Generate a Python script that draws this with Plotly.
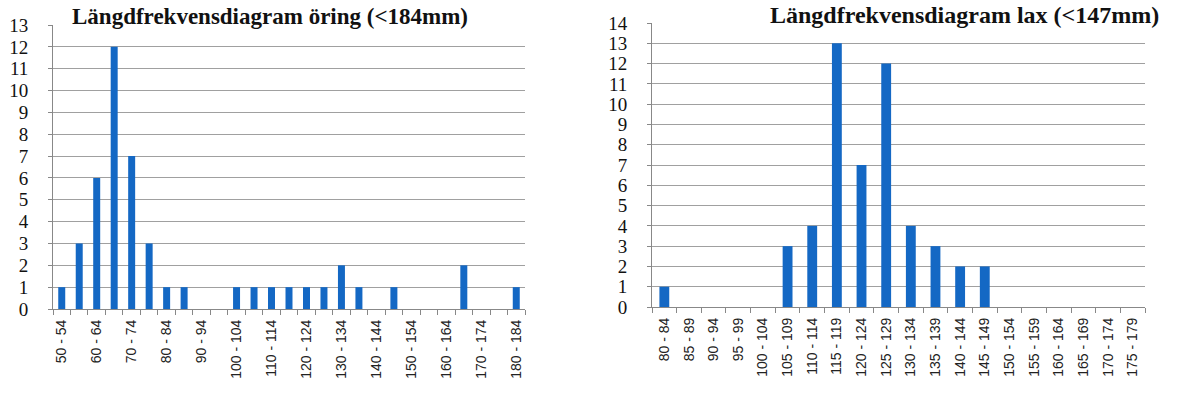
import plotly.graph_objects as go

# Data
oring_categories = [f"{s} - {s+4}" for s in range(50, 185, 5)]
oring_counts = [1, 3, 6, 12, 7, 3, 1, 1, 0, 0, 1, 1, 1, 1, 1, 1, 2, 1, 0, 1, 0, 0, 0, 2, 0, 0, 1]
oring_ticktext = [c if i % 2 == 0 else "" for i, c in enumerate(oring_categories)]

lax_categories = [f"{s} - {s+4}" for s in range(80, 180, 5)]
lax_counts = [1, 0, 0, 0, 0, 3, 4, 13, 7, 12, 4, 3, 2, 2, 0, 0, 0, 0, 0, 0]

title_left = "Längdfrekvensdiagram öring (<184mm)"
title_right = "Längdfrekvensdiagram lax (<147mm)"

W, H = 1177, 403
bar_color = "#1468C4"
grid_color = "#A0A0A0"
serif = "Liberation Serif, Times New Roman, serif"
sans = "Liberation Sans, Arial, sans-serif"

fig = go.Figure()
fig.add_trace(go.Bar(x=oring_categories, y=oring_counts, marker_color=bar_color,
                     marker_line_width=0, xaxis="x", yaxis="y", showlegend=False))
fig.add_trace(go.Bar(x=lax_categories, y=lax_counts, marker_color=bar_color,
                     marker_line_width=0, xaxis="x2", yaxis="y2", showlegend=False))

common_x = dict(type="category", tickson="boundaries", ticks="outside", ticklen=5,
                tickcolor="#888888", showline=True, linecolor="#888888", linewidth=1,
                showgrid=False, tickangle=-90, ticklabelstandoff=4, automargin=False,
                tickfont=dict(family=sans, size=14, color="#222222"))
common_y = dict(dtick=1, showgrid=True, gridcolor=grid_color, gridwidth=1,
                showline=True, linecolor="#888888", linewidth=1, ticks="outside",
                ticklen=4, tickcolor="#888888", zeroline=False, ticklabelstandoff=16,
                automargin=False,
                tickfont=dict(family=serif, size=19, color="#111111"))

fig.update_layout(
    width=W, height=H,
    margin=dict(l=0, r=0, t=0, b=0, autoexpand=False),
    paper_bgcolor="white", plot_bgcolor="white",
    bargap=0.6,
    xaxis=dict(domain=[53/W, 525/W], anchor="y",
               tickmode="array", tickvals=oring_categories, ticktext=oring_ticktext,
               **common_x),
    yaxis=dict(domain=[1-309/H, 1-25/H], anchor="x", range=[0, 13], **common_y),
    xaxis2=dict(domain=[652/W, 1145/W], anchor="y2", **common_x),
    yaxis2=dict(domain=[1-307/H, 1-23/H], anchor="x2", range=[0, 14], **common_y),
    annotations=[
        dict(text=f"<b>{title_left}</b>", x=270/W, y=1-17/H, xref="paper", yref="paper",
             showarrow=False, xanchor="center", yanchor="middle",
             font=dict(family=serif, size=23, color="#111111"), bgcolor="white"),
        dict(text=f"<b>{title_right}</b>", x=964/W, y=1-15/H, xref="paper", yref="paper",
             showarrow=False, xanchor="center", yanchor="middle",
             font=dict(family=serif, size=24, color="#111111"), bgcolor="white"),
    ],
)

fig.write_html("out.html", config={"displayModeBar": False},
               post_script="document.body.style.margin='0px';")
